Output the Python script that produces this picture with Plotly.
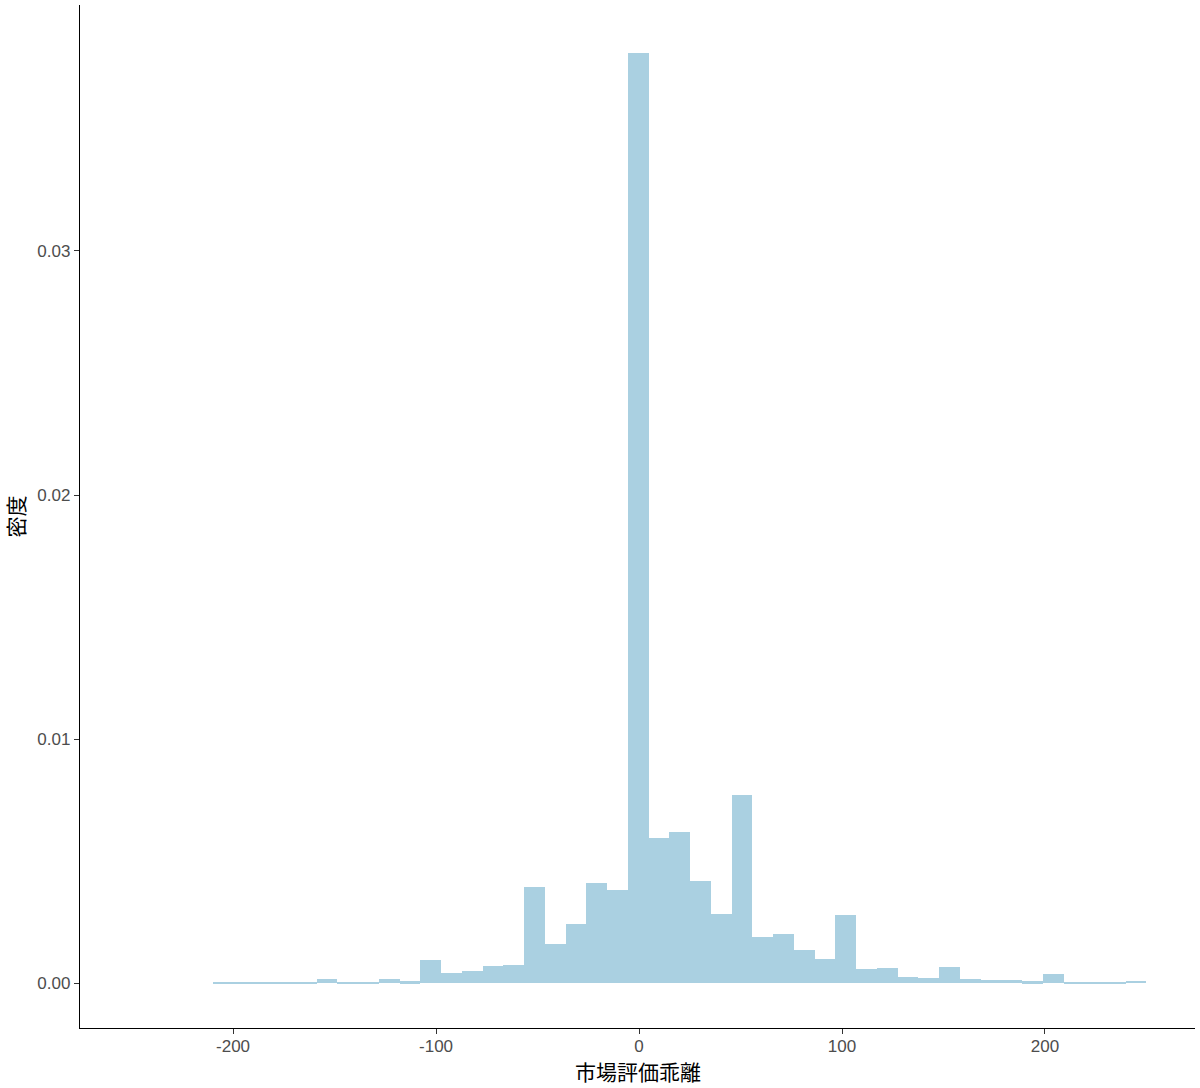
import plotly.graph_objects as go

# Histogram bins (density), bin width ~10.22, first bin left edge ~ -209.9
bin_start = -209.9
bin_width = 10.22
density = [
    0.00006, 0.00003, 0.00001, 0.00003, 0.00001, 0.00018, 0.00005, 0.00005, 0.00015, 0.00008,
    0.00096, 0.00043, 0.00051, 0.00070, 0.00075, 0.00393, 0.00159, 0.00243, 0.00411, 0.00381,
    0.03810, 0.00596, 0.00618, 0.00418, 0.00282, 0.00770, 0.00190, 0.00201, 0.00137, 0.00097,
    0.00279, 0.00058, 0.00060, 0.00027, 0.00022, 0.00068, 0.00018, 0.00014, 0.00011, 0.00008,
    0.00038, 0.00004, 0.00003, 0.00001, 0.00010,
]
bin_centers = [bin_start + bin_width * (i + 0.5) for i in range(len(density))]

x_ticks = [-200, -100, 0, 100, 200]
x_tick_labels = ["-200", "-100", "0", "100", "200"]
y_ticks = [0.0, 0.01, 0.02, 0.03]
y_tick_labels = ["0.00", "0.01", "0.02", "0.03"]
x_title = "市場評価乖離"
y_title = "密度"

fig = go.Figure()
fig.add_trace(go.Bar(
    x=bin_centers, y=density, width=[bin_width] * len(density),
    marker=dict(color="#aad0e1", line=dict(width=0)),
    showlegend=False, hoverinfo="x+y",
))

tick_font = dict(family="Liberation Sans, Arial, sans-serif", size=17, color="#4d4d4d")
title_font = dict(family="Noto Sans CJK JP, sans-serif", size=21, color="#000000")

fig.update_layout(
    width=1200, height=1088,
    margin=dict(l=80, r=5, t=5, b=60, autoexpand=False),
    paper_bgcolor="white", plot_bgcolor="white",
    bargap=0,
    xaxis=dict(
        range=[-275.4, 273.9], tickvals=x_ticks, ticktext=x_tick_labels,
        showline=True, linecolor="black", linewidth=1.3, mirror=False,
        ticks="outside", ticklen=5, tickcolor="#333333", tickwidth=1,
        showgrid=False, zeroline=False, tickfont=tick_font, automargin=False,
        ticklabelstandoff=-3,
    ),
    yaxis=dict(
        range=[-0.00184, 0.04008], tickvals=y_ticks, ticktext=y_tick_labels,
        showline=True, linecolor="black", linewidth=1.3, mirror=False,
        ticks="outside", ticklen=5, tickcolor="#333333", tickwidth=1,
        showgrid=False, zeroline=False, tickfont=tick_font, automargin=False,
    ),
    annotations=[
        dict(text=x_title, xref="paper", yref="paper", x=0.5, y=0, yshift=-43,
             xanchor="center", yanchor="middle", showarrow=False, font=title_font),
        dict(text=y_title, xref="paper", yref="paper", x=0, y=0.5, xshift=-66,
             xanchor="center", yanchor="middle", textangle=-90, showarrow=False, font=title_font),
    ],
)

fig.write_html("out.html", config={"displayModeBar": False},
               post_script="document.body.style.margin='0';document.body.style.overflow='hidden';")
